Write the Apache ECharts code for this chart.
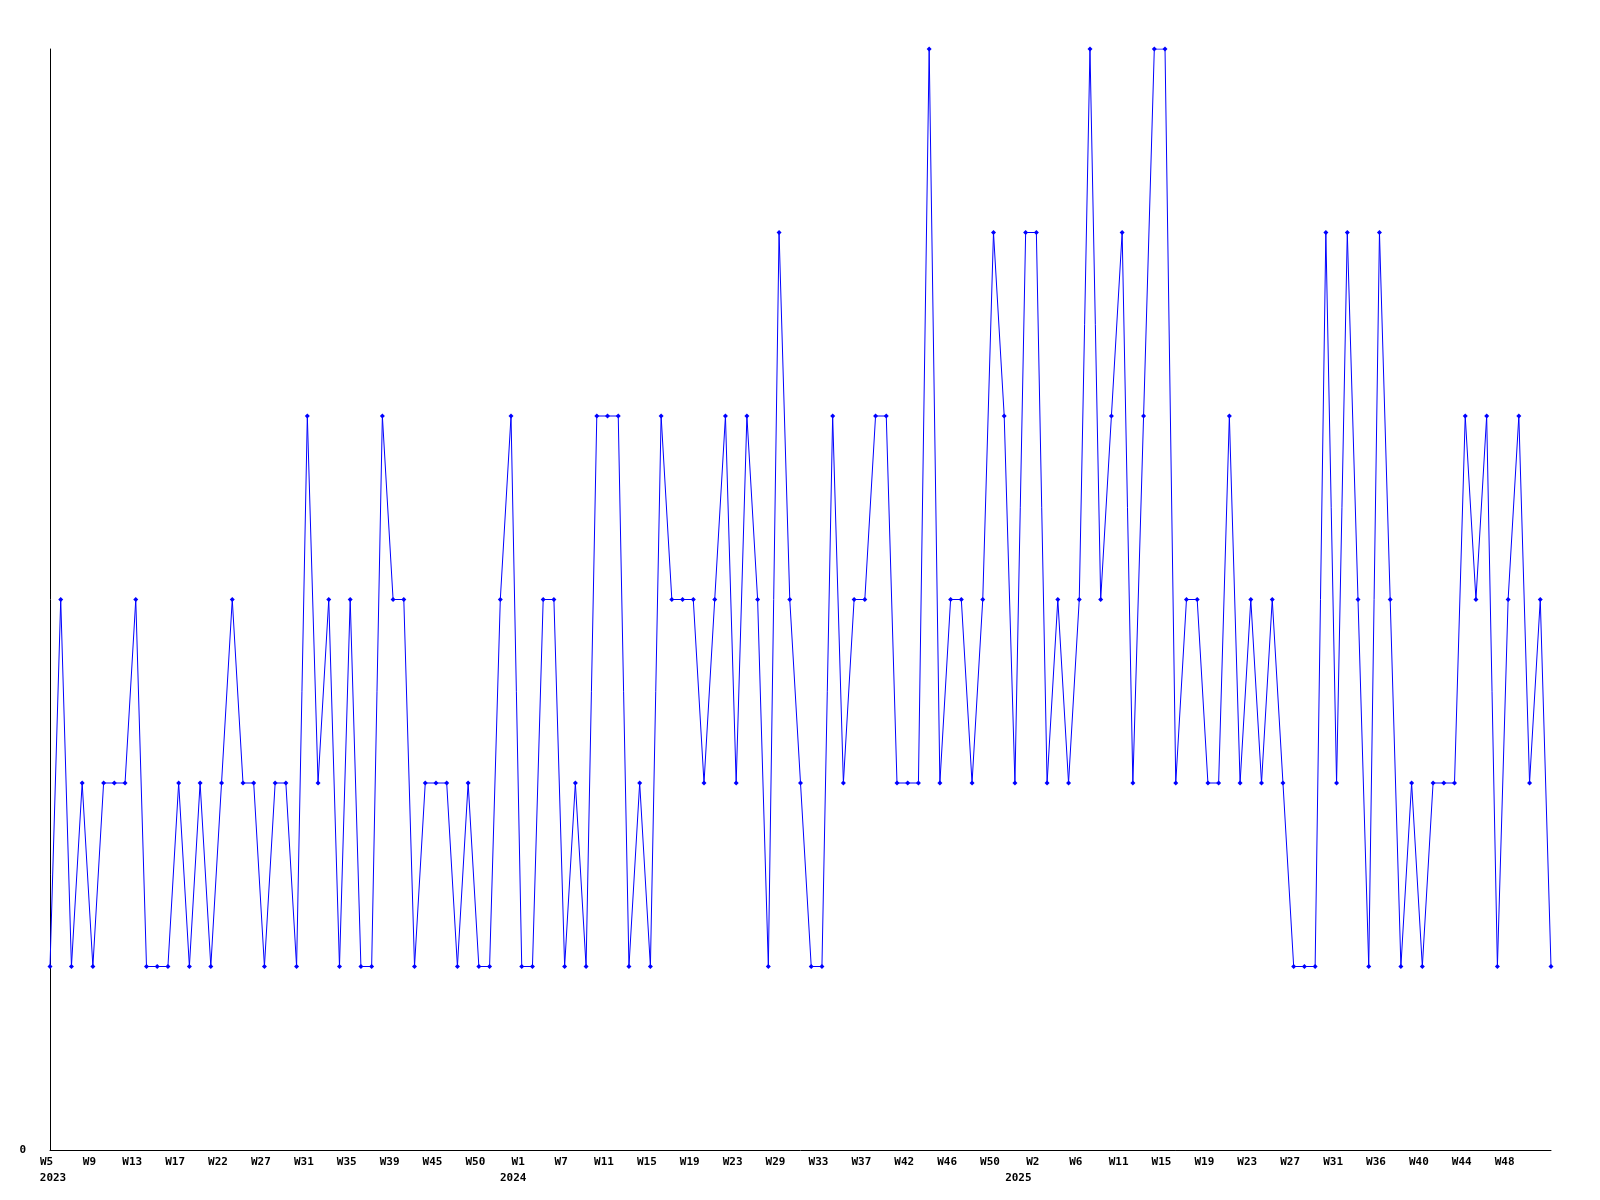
<!DOCTYPE html>
<html>
<head>
<meta charset="utf-8">
<script src="https://cdn.jsdelivr.net/npm/echarts@6/dist/echarts.min.js"></script>
<style>
html,body{margin:0;padding:0;background:#fff;}
#chart{width:1600px;height:1200px;}
</style>
</head>
<body>
<div id="chart"></div>
<script>
// Week numbers per year (categories); every 4th is labelled on the axis
const weeks2023 = [5,6,7,8,9,10,11,12,13,14,15,16,17,18,19,21,22,23,24,25,27,28,29,30,31,32,33,34,35,36,37,38,39,40,41,43,45,46,47,49,50,51,52,53];
const weeks2024 = [1,2,4,5,7,8,9,10,11,12,13,14,15,16,17,18,19,20,21,22,23,24,25,27,29,30,31,32,33,34,35,36,37,38,39,41,42,43,44,45,46,47,48,49,50,51,52];
const weeks2025 = [1,2,3,4,5,6,7,8,10,11,12,13,14,15,16,17,18,19,20,21,22,23,24,25,26,27,28,29,30,31,32,34,35,36,37,38,39,40,41,42,43,44,45,46,47,48,49,50,51,52];

const values = [
  1,3,1,2,1,2,2,2,3,1,
  1,1,2,1,2,1,2,3,2,2,
  1,2,2,1,4,2,3,1,3,1,
  1,4,3,3,1,2,2,2,1,2,
  1,1,3,4,1,1,3,3,1,2,
  1,4,4,4,1,2,1,4,3,3,
  3,2,3,4,2,4,3,1,5,3,
  2,1,1,4,2,3,3,4,4,2,
  2,2,6,2,3,3,2,3,5,4,
  2,5,5,2,3,2,3,6,3,4,
  5,2,4,6,6,2,3,3,2,2,
  4,2,3,2,3,2,1,1,1,5,
  2,5,3,1,5,3,1,2,1,2,
  2,2,4,3,4,1,3,4,2,3,
  1
];

const categories = []
  .concat(weeks2023.map(w => '2023-W' + w))
  .concat(weeks2024.map(w => '2024-W' + w))
  .concat(weeks2025.map(w => '2025-W' + w));

const labelStep = 4;
const lastLabelled = 136;

const chart = echarts.init(document.getElementById('chart'), null, {renderer: 'canvas'});
const baseFont = {fontFamily: 'DejaVu Sans Mono', fontWeight: 'bold', fontSize: 11, color: '#000', lineHeight: 16};
chart.setOption({
  animation: false,
  backgroundColor: '#ffffff',
  grid: {left: 50, right: 49, top: 49, bottom: 50, containLabel: false},
  xAxis: {
    type: 'category',
    data: categories,
    boundaryGap: false,
    axisLine: {show: true, lineStyle: {color: '#000', width: 1}},
    axisTick: {show: false},
    splitLine: {show: false},
    axisLabel: Object.assign({}, baseFont, {
      interval: function (idx) { return idx % labelStep === 0 && idx <= lastLabelled; },
      margin: 4,
      rich: {
        w: Object.assign({}, baseFont, {padding: [0, 7, 0, 0]}),
        y2023: Object.assign({}, baseFont, {padding: [0, 0, 0, 6]}),
        y2024: Object.assign({}, baseFont, {padding: [0, 17, 0, 0]}),
        y2025: Object.assign({}, baseFont, {padding: [0, 36, 0, 0]})
      },
      formatter: function (val, idx) {
        const parts = val.split('-');
        const yr = parts[0], wk = parts[1];
        let showYear = false;
        if (idx === 0) showYear = true;
        else {
          const prev = categories[idx - labelStep];
          if (prev && prev.split('-')[0] !== yr) showYear = true;
        }
        return showYear ? ('{w|' + wk + '}\n{y' + yr + '|' + yr + '}') : ('{w|' + wk + '}');
      }
    })
  },
  yAxis: {
    type: 'value',
    min: 0,
    max: 6,
    interval: 6,
    axisLine: {show: true, lineStyle: {color: '#000', width: 1}},
    axisTick: {show: false},
    splitLine: {show: false},
    axisLabel: {
      color: '#000',
      fontFamily: 'DejaVu Sans Mono',
      fontWeight: 'bold',
      fontSize: 11,
      margin: 24,
      formatter: v => (v === 0 ? '0' : '')
    }
  },
  series: [{
    type: 'line',
    data: values,
    symbol: 'diamond',
    symbolSize: 5,
    showAllSymbol: true,
    lineStyle: {color: '#0000ff', width: 1},
    itemStyle: {color: '#0000ff'}
  }]
});
</script>
</body>
</html>
